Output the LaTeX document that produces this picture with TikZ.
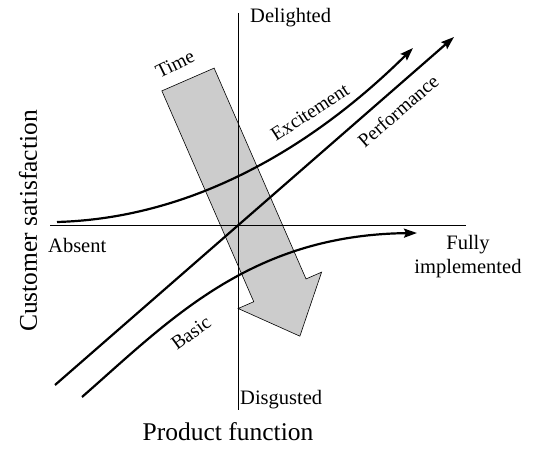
\documentclass[tikz,border=0pt]{standalone}
\usepackage{fontspec}
\setmainfont{Liberation Serif}
\usetikzlibrary{arrows.meta}
\definecolor{ink}{HTML}{000000}
\definecolor{shade}{HTML}{CCCCCC}
\tikzset{
  ax/.style={draw=ink, line width=0.9pt},
  crv/.style={draw=ink, line width=2.2pt, -{Stealth[length=13pt, width=9pt, inset=2pt]}},
  endlbl/.style={font=\fontsize{20.5}{24}\selectfont, inner sep=0pt},
  ttl/.style={font=\fontsize{25.5}{30}\selectfont, inner sep=0pt},
  lbl/.style={font=\fontsize{19.5}{23}\selectfont, inner sep=0pt},
  bigarrow/.style={draw=ink, line width=0.6pt, fill=shade, line join=miter},
}

\begin{document}
\begin{tikzpicture}[x=1pt, y=-1pt]
\useasboundingbox (0,0) rectangle (542,449);

% time arrow (under everything)
\begin{scope}[shift={(188,79.5)}, rotate=-66.45]
  \draw[bigarrow] (0,-28.5) -- (230,-28.5) -- (230,-45.5) -- (280,0)
    -- (230,45.5) -- (230,28.5) -- (0,28.5) -- cycle;
\end{scope}
\node[lbl, rotate=26] (time) at (175,64) {Time};

% axes
\coordinate (o) at (238,225);
\coordinate (top) at (238,13);
\coordinate (bot) at (238,410);
\coordinate (lft) at (50,225);
\coordinate (rgt) at (466,225);
\draw[ax] (top) -- (bot);
\draw[ax] (lft) -- (rgt);

\node[endlbl, anchor=west] (dl) at (250,18) {Delighted};
\node[endlbl, anchor=west] (dg) at (240,400) {Disgusted};
\node[endlbl, anchor=west] (ab) at (48,245) {Absent};
\node[endlbl, align=center] (fi) at (468,257) {Fully\\implemented};
\node[ttl, rotate=90] (cs) at (28,221) {Customer satisfaction};
\node[ttl] (pf) at (228,432) {Product function};

% curves
\coordinate (e0) at (57,222);
\coordinate (e1) at (413,48);
\coordinate (p0) at (55,385);
\coordinate (p1) at (454,37);
\coordinate (b0) at (82,397);
\coordinate (b1) at (417,233);
\draw[crv] (e0) .. controls (200,218) and (320,140) .. (e1);
\draw[crv] (p0) -- (p1);
\draw[crv] (b0) .. controls (170,320) and (250,235) .. (b1);

\node[lbl, rotate=33] (exc) at (310,112) {Excitement};
\node[lbl, rotate=41] (perf) at (398,111) {Performance};
\node[lbl, rotate=36] (bas) at (191,333) {Basic};
\end{tikzpicture}
\end{document}
